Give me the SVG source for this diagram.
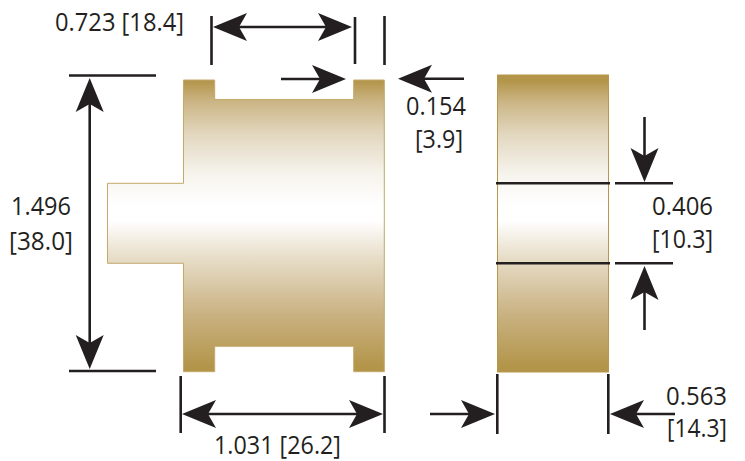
<svg xmlns="http://www.w3.org/2000/svg" width="745" height="461" viewBox="0 0 745 461">
<style>
.dim{stroke:#231f20;stroke-width:2.6;fill:none}
.part{stroke:#c4a96b;stroke-width:1}
text{font-family:"Open Sans","Noto Sans","Liberation Sans",sans-serif;font-size:25.5px;fill:#231f20}
</style>
<defs>
<linearGradient id="g" gradientUnits="userSpaceOnUse" x1="0" y1="75" x2="0" y2="372">
<stop offset="0.02" stop-color="#b3954a"/>
<stop offset="0.09" stop-color="#cbb585"/>
<stop offset="0.2" stop-color="#e2d7bf"/>
<stop offset="0.33" stop-color="#f6f3ec"/>
<stop offset="0.44" stop-color="#ffffff"/>
<stop offset="0.49" stop-color="#ffffff"/>
<stop offset="0.62" stop-color="#e6dcc6"/>
<stop offset="0.8" stop-color="#cab384"/>
<stop offset="0.98" stop-color="#b3954a"/>
</linearGradient>
<marker id="h" markerUnits="userSpaceOnUse" markerWidth="36" markerHeight="30" refX="8" refY="15" orient="auto-start-reverse" overflow="visible">
<path d="M0 1L34 15L0 29L8 15Z" fill="#231f20"/>
</marker>
</defs>
<g id="side-part">
<rect x="497.5" y="75" width="111" height="297" fill="url(#g)" stroke="#b9974a" stroke-width="1"/>
</g>
<g id="front-part">
<path class="part" fill="url(#g)" d="M183.5 80H214.7V99.5H353.7V80H384.3V371.7H353.7V346.3H214.7V371.7H183.5V263.3H107.5V183.3H183.5Z"/>
</g>
<g id="connectors">
<path class="dim" d="M211.5 16V65M355 17V64M384.5 16V65M69 75.5H156M69 371H156M180.7 376V433M384.5 376V433M497.3 374V434M608.3 374V434M496 183.3H610M615 183.3H673M496 263.3H610M615 263.3H673"/>
<line class="dim" x1="239" y1="27" x2="326" y2="27" marker-start="url(#h)" marker-end="url(#h)"/>
<line class="dim" x1="281" y1="79" x2="320" y2="79" marker-end="url(#h)"/>
<line class="dim" x1="464" y1="78.7" x2="424" y2="78.7" marker-end="url(#h)"/>
<line class="dim" x1="89.7" y1="104" x2="89.7" y2="343" marker-start="url(#h)" marker-end="url(#h)"/>
<line class="dim" x1="208" y1="414" x2="357" y2="414" marker-start="url(#h)" marker-end="url(#h)"/>
<line class="dim" x1="430" y1="414" x2="469" y2="414" marker-end="url(#h)"/>
<line class="dim" x1="675" y1="414" x2="636" y2="414" marker-end="url(#h)"/>
<line class="dim" x1="644.5" y1="117" x2="644.5" y2="156" marker-end="url(#h)"/>
<line class="dim" x1="644.5" y1="330" x2="644.5" y2="292" marker-end="url(#h)"/>
</g>
<g id="labels">
<text x="55" y="31" textLength="129" lengthAdjust="spacingAndGlyphs">0.723 [18.4]</text>
<text x="406" y="115" textLength="60" lengthAdjust="spacingAndGlyphs">0.154</text>
<text x="415" y="148" textLength="48" lengthAdjust="spacingAndGlyphs">[3.9]</text>
<text x="11" y="215" textLength="60" lengthAdjust="spacingAndGlyphs">1.496</text>
<text x="9" y="250" textLength="64" lengthAdjust="spacingAndGlyphs">[38.0]</text>
<text x="652" y="215" textLength="61" lengthAdjust="spacingAndGlyphs">0.406</text>
<text x="652" y="248" textLength="61" lengthAdjust="spacingAndGlyphs">[10.3]</text>
<text x="666" y="405" textLength="61" lengthAdjust="spacingAndGlyphs">0.563</text>
<text x="667" y="437" textLength="60" lengthAdjust="spacingAndGlyphs">[14.3]</text>
<text x="214" y="454" textLength="127" lengthAdjust="spacingAndGlyphs">1.031 [26.2]</text>
</g>
</svg>
